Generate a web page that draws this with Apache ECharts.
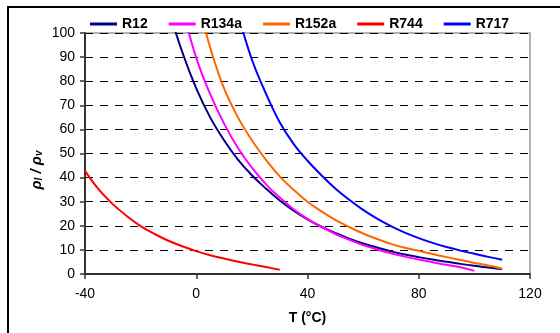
<!DOCTYPE html>
<html>
<head>
<meta charset="utf-8">
<script src="https://cdn.jsdelivr.net/npm/echarts@6/dist/echarts.min.js"></script>
<style>html,body{margin:0;padding:0;background:#fff}#c{width:560px;height:333px}</style>
</head>
<body>
<div id="c"></div>
<script>
const seriesNames = ['R12', 'R134a', 'R152a', 'R744', 'R717'];
const xTicks = [-40, 0, 40, 80, 120];
const yTicks = [0, 10, 20, 30, 40, 50, 60, 70, 80, 90, 100];

const r12T = [-10, -5, 0, 5, 10, 15, 20, 25, 30, 35, 40, 45, 50, 55, 60, 65, 70, 75, 80, 85, 90, 95, 100, 105, 110];
const r12V = [110, 92, 77, 65, 55.5, 47.5, 41, 35.5, 30.5, 26.3, 22.7, 19.6, 17, 14.7, 12.7, 11, 9.4, 8.1, 7.0, 6.0, 5.1, 4.2, 3.4, 2.7, 2.0];

const r134aT = [-5, 0, 5, 10, 15, 20, 25, 30, 35, 40, 45, 50, 55, 60, 65, 70, 75, 80, 85, 90, 95, 100];
const r134aV = [110, 89.7, 74.6, 62.4, 52.3, 44.1, 37.3, 31.7, 26.9, 22.9, 19.6, 16.6, 14.2, 12.0, 10.2, 8.6, 7.2, 6.0, 4.9, 3.8, 2.8, 1.3];

const r152aT = [0, 5, 10, 15, 20, 25, 30, 35, 40, 45, 50, 55, 60, 65, 70, 75, 80, 85, 90, 95, 100, 105, 110];
const r152aV = [116, 94, 77, 65, 55.5, 47.5, 40.5, 35, 30, 26, 22.5, 19.5, 16.8, 14.5, 12.5, 10.9, 9.6, 8.3, 7.0, 5.8, 4.6, 3.5, 2.2];

const r744T = [-40, -35, -30, -25, -20, -15, -10, -5, 0, 5, 10, 15, 20, 25, 30];
const r744V = [42.8, 35, 29, 24.1, 19.9, 16.6, 13.8, 11.5, 9.5, 7.8, 6.4, 5.1, 4.0, 2.9, 1.8];

const r717T = [15, 20, 25, 30, 35, 40, 45, 50, 55, 60, 65, 70, 75, 80, 85, 90, 95, 100, 105, 110];
const r717V = [108, 89, 75, 63, 54, 47, 41, 35.5, 30.8, 26.6, 23, 19.9, 17.2, 14.9, 12.9, 11.2, 9.7, 8.4, 7.1, 5.9];

const colors = ['#000080', '#FF00FF', '#FF6600', '#FF0000', '#0000FF'];
const allT = [r12T, r134aT, r152aT, r744T, r717T];
const allV = [r12V, r134aV, r152aV, r744V, r717V];

const font = '"Liberation Sans", Arial, sans-serif';

const chart = echarts.init(document.getElementById('c'));
chart.setOption({
  animation: false,
  backgroundColor: '#fff',
  legend: {
    top: 12,
    left: 85,
    icon: 'rect',
    itemWidth: 27,
    itemHeight: 3,
    itemGap: 21,
    textStyle: { fontFamily: font, fontSize: 14, fontWeight: 'bold', color: '#000' },
    data: seriesNames
  },
  grid: {
    left: 85, right: 30, top: 33, bottom: 59,
    show: true, borderColor: '#999', borderWidth: 1.5, backgroundColor: 'transparent'
  },
  xAxis: {
    type: 'value', min: -40, max: 120, interval: 40,
    name: 'T (°C)', nameLocation: 'middle', nameGap: 37,
    nameTextStyle: { fontFamily: font, fontSize: 14, fontWeight: 'bold', color: '#000' },
    axisLine: { show: true, onZero: false, lineStyle: { color: '#333', width: 2 } },
    axisTick: { show: true, inside: false, length: 5, lineStyle: { color: '#333', width: 1.5 } },
    axisLabel: { fontFamily: font, fontSize: 14, color: '#000', margin: 13,
      formatter: v => xTicks.includes(v) ? String(v) : '' },
    splitLine: { show: false }
  },
  yAxis: {
    type: 'value', min: 0, max: 100, interval: 10,
    axisLine: { show: true, onZero: false, lineStyle: { color: '#333', width: 2 } },
    axisTick: { show: true, inside: false, length: 5, lineStyle: { color: '#333', width: 1.5 } },
    axisLabel: { fontFamily: font, fontSize: 14, color: '#000', margin: 10,
      formatter: v => yTicks.includes(v) ? String(v) : '' },
    splitLine: { show: true, lineStyle: { color: '#000', width: 1, type: [8, 7] } }
  },
  graphic: [
    { type: 'rect', shape: { x: 8, y: 7, width: 620, height: 420 }, style: { fill: 'none', stroke: '#000', lineWidth: 2 }, silent: true, z: 100 },
    { type: 'text', x: 36, y: 170, rotation: Math.PI / 2,
      style: {
        text: '{a|ρ}{s|l}{a| / ρ}{s|v}',
        align: 'center', verticalAlign: 'middle',
        rich: {
          a: { fontFamily: font, fontSize: 15, fontWeight: 'bold', fontStyle: 'italic', fill: '#000', lineHeight: 17, verticalAlign: 'bottom' },
          s: { fontFamily: font, fontSize: 10, fontWeight: 'bold', fontStyle: 'italic', fill: '#000', lineHeight: 11, verticalAlign: 'bottom' }
        }
      }, z: 100 }
  ],
  series: seriesNames.map((n, i) => ({
    name: n,
    type: 'line',
    smooth: 0.4,
    symbol: 'none',
    clip: true,
    lineStyle: { color: colors[i], width: 2 },
    itemStyle: { color: colors[i] },
    data: allT[i].map((t, j) => [t, allV[i][j]])
  }))
});
</script>
</body>
</html>
